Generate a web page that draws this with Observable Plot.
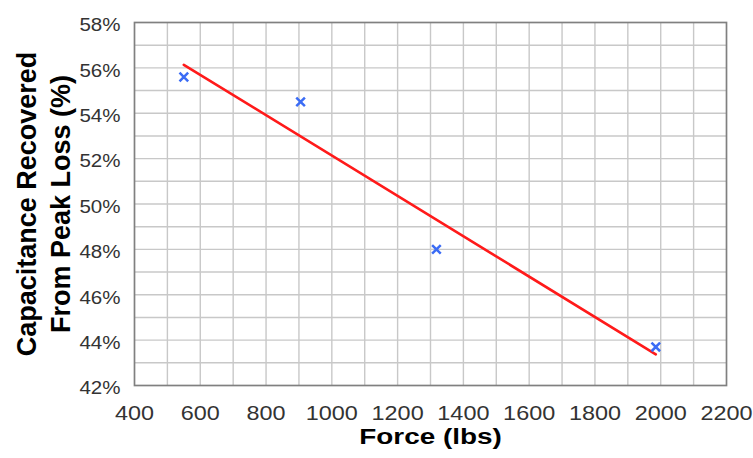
<!DOCTYPE html>
<html>
<head>
<meta charset="utf-8">
<script src="https://cdn.jsdelivr.net/npm/d3@7"></script>
<script src="https://cdn.jsdelivr.net/npm/@observablehq/plot@0.6"></script>
<style>
  html, body { margin: 0; padding: 0; background: #fff; }
  svg { display: block; }
</style>
</head>
<body>
<div id="chart"></div>
<script>
const force = [550, 905, 1318, 1985];
const recovered = [55.6, 54.5, 48.0, 43.7];
const xTicks = [400, 600, 800, 1000, 1200, 1400, 1600, 1800, 2000, 2200];
const yTicks = [42, 44, 46, 48, 50, 52, 54, 56, 58];
const xGrid = [500, 600, 700, 800, 900, 1000, 1100, 1200, 1300, 1400, 1500, 1600, 1700, 1800, 1900, 2000, 2100];
const yGrid = [43, 44, 45, 46, 47, 48, 49, 50, 51, 52, 53, 54, 55, 56, 57];
const xTitle = "Force (lbs)";
const yTitle = "Capacitance Recovered\nFrom Peak Loss (%)";

const data = force.map((f, i) => ({force: f, recovered: recovered[i]}));

const font = "Liberation Sans, Arial, Helvetica, sans-serif";

const chart = Plot.plot({
  width: 753,
  height: 458,
  marginLeft: 134,
  marginRight: 27,
  marginTop: 22,
  marginBottom: 73,
  style: {fontFamily: font, background: "#fff", overflow: "visible"},
  x: {domain: [400, 2200]},
  y: {domain: [42, 58]},
  marks: [
    Plot.gridX(xGrid, {stroke: "#c8c8c8", strokeOpacity: 1, strokeWidth: 1.4}),
    Plot.gridY(yGrid, {stroke: "#c8c8c8", strokeOpacity: 1, strokeWidth: 1.4}),
    Plot.frame({stroke: "#808080", strokeWidth: 1.7}),
    Plot.axisX(xTicks, {tickSize: 0, tickPadding: 20, fontSize: 20, fill: "#333", tickFormat: d => String(d), label: null}),
    Plot.axisY(yTicks, {tickSize: 0, tickPadding: 14, fontSize: 18, fill: "#333", dy: 3, tickFormat: d => d + "%", label: null}),
    Plot.linearRegressionY(data, {x: "force", y: "recovered", stroke: "#ff1a1a", strokeWidth: 2.6, ci: 0}),
    Plot.dot(data, {x: "force", y: "recovered", symbol: "times", r: 4, stroke: "#3b6cf5", strokeWidth: 2.5}),
    Plot.text([xTitle], {frameAnchor: "bottom", dy: 58, fontSize: 22.5, fontWeight: "bold", fill: "#000", className: "xtitle"}),
    Plot.text([yTitle], {frameAnchor: "left", textAnchor: "middle", dx: -92, rotate: -90, fontSize: 27, fontWeight: "bold", fill: "#000", lineHeight: 1.26})
  ]
});

document.getElementById("chart").appendChild(chart);

// widen horizontal text glyphs slightly, as in the reference
function widen(sel, k) {
  d3.select(chart).selectAll(sel).each(function() {
    const len = this.getComputedTextLength();
    if (len > 0) {
      this.setAttribute("textLength", (len * k).toFixed(1));
      this.setAttribute("lengthAdjust", "spacingAndGlyphs");
    }
  });
}
widen('g[aria-label="x-axis tick label"] text', 1.17);
widen('g[aria-label="y-axis tick label"] text', 1.14);
widen('g.xtitle text', 1.24);
</script>
</body>
</html>
